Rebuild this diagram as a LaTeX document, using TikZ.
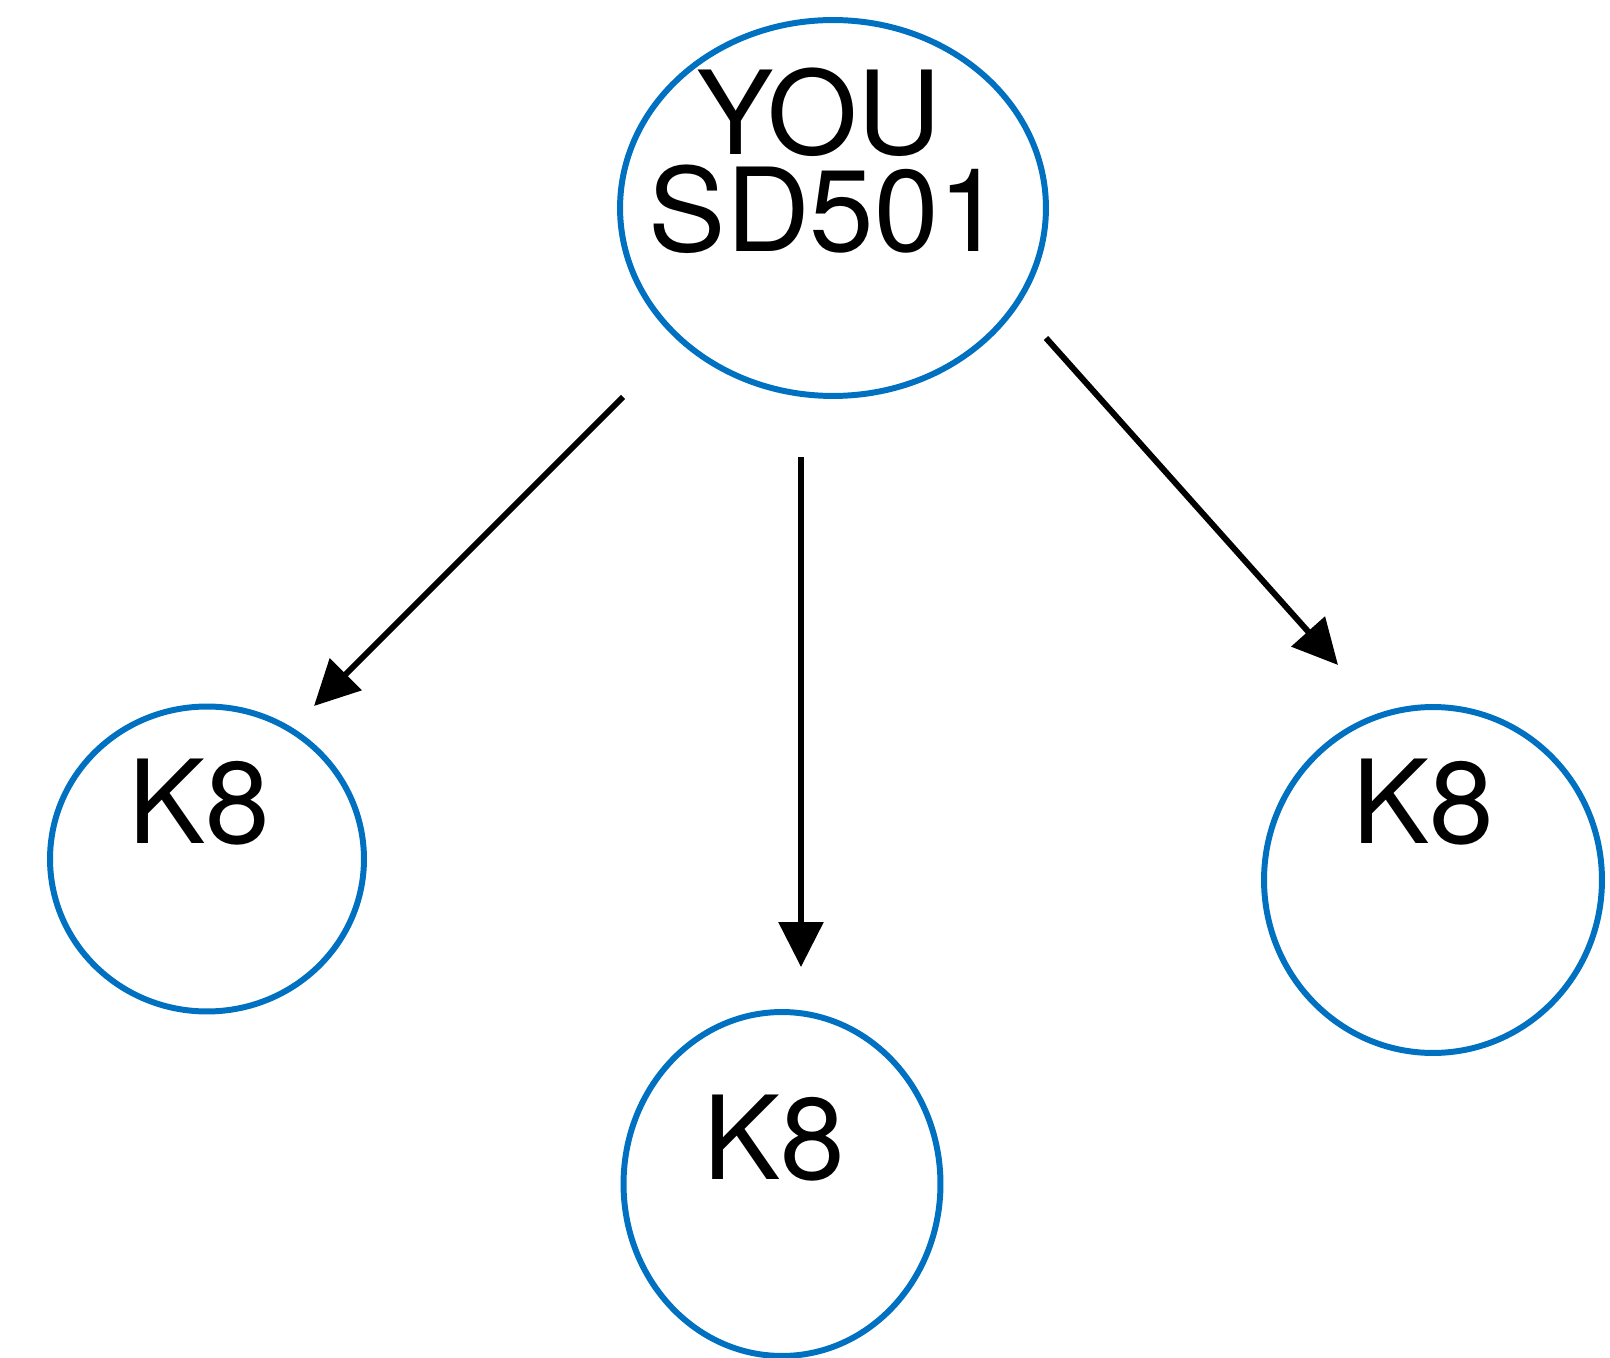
\documentclass[tikz,border=0pt]{standalone}
\usepackage{fontspec}
\usepackage{tikz}
\usetikzlibrary{arrows.meta,shapes.geometric,positioning}
\newfontfamily\heros{TeX Gyre Heros}
\definecolor{nodeblue}{HTML}{0070C0}
\tikzset{
  bubble/.style={ellipse,draw=nodeblue,line width=3.4pt,inner sep=0pt},
  lbl/.style={font=\heros\fontsize{66}{55}\selectfont,align=center,inner sep=0pt},
  arr/.style={line width=3.4pt,-{Triangle[length=0.9cm,width=0.88cm]}}
}
\begin{document}
\begin{tikzpicture}[x={(0.02cm,0)},y={(0,-0.02cm)}]
        \useasboundingbox (0,0) rectangle (1610,1358);
        % nodes
        \node[bubble,minimum width=8.52cm,minimum height=7.52cm] (you) at (833,208) {};
        \node[bubble,minimum width=6.28cm,minimum height=6.1cm] (kleft) at (207,859) {};
        \node[bubble,minimum width=6.34cm,minimum height=6.88cm] (kmid) at (782,1184) {};
        \node[bubble,minimum width=6.76cm,minimum height=6.92cm] (kright) at (1433,880) {};
        \node[lbl] (youtxt) at (826,161) {YOU\hspace*{0.3cm}\\SD501};
        \node[lbl] (klefttxt) at (199,802) {K8};
        \node[lbl] (kmidtxt) at (774,1138) {K8};
        \node[lbl] (krighttxt) at (1423,802) {K8};
        % arrow ends
        \coordinate (al) at (623,397);
        \coordinate (bl) at (314,706);
        \coordinate (am) at (801,457);
        \coordinate (bm) at (801,967);
        \coordinate (ar) at (1046,338);
        \coordinate (br) at (1338,665);
        \draw[arr] (al) -- (bl);
        \draw[arr] (am) -- (bm);
        \draw[arr] (ar) -- (br);
\end{tikzpicture}
\end{document}
